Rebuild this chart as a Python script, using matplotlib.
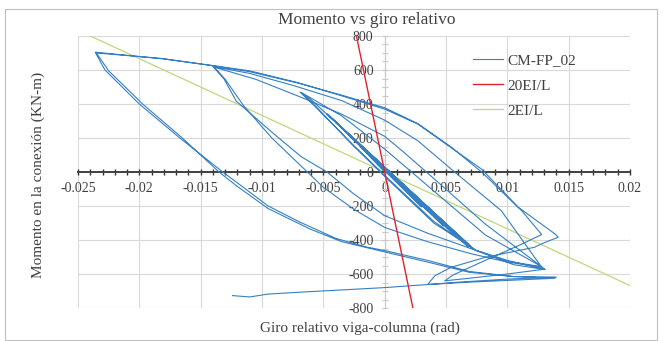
import matplotlib
matplotlib.use("Agg")
import matplotlib.pyplot as plt
from matplotlib.ticker import MultipleLocator, FixedLocator
from matplotlib.patches import Rectangle

plt.rcParams['font.family'] = ['Liberation Serif', 'DejaVu Serif']
plt.rcParams['axes.unicode_minus'] = False

# ---- data ----
theta_cm = [
    # small elastic cycles
    0.0, -0.0020, 0.0030, -0.0032, 0.0048, -0.0040, 0.0060, -0.0046, 0.0068, -0.0047, 0.0072,
    -0.0045, 0.0071, -0.0047, 0.0073,
    # cycle to -0.007
    -0.0048, -0.0060, -0.0069,
    -0.0058, -0.0030, 0.0, 0.0040, 0.0074, 0.0100, 0.0128,
    0.0082, 0.0022, 0.0, -0.0035, -0.0068,
    -0.0056, -0.0025, 0.0005, 0.0040, 0.0075, 0.0105, 0.0131,
    # cycle to -0.014
    0.0082, 0.0034, 0.0015, 0.0, -0.0035, -0.0070, -0.0105, -0.0139,
    -0.0130, -0.0115, -0.0092, -0.0063, -0.0050, -0.0025, 0.0, 0.0035, 0.0070, 0.0100, 0.0128,
    0.0095, 0.0057, 0.0027, 0.0, -0.0035, -0.0075, -0.0110, -0.0140,
    -0.0131, -0.0121, -0.0090, -0.0068, -0.0047, -0.0025, 0.0, 0.0035, 0.0070, 0.0100, 0.0130,
    0.0100, 0.0065, 0.0049, 0.0056, 0.0085, 0.0110, 0.0128,
    # cycle to -0.0236
    0.0112, 0.0079, 0.0054, 0.0027, 0.0, -0.0035, -0.0070, -0.0110, -0.0140, -0.0180, -0.0236,
    -0.0228, -0.0200, -0.0168, -0.0132, -0.0118, -0.0095, -0.0069, -0.0040, -0.0015, 0.0, 0.0035,
    0.0069, 0.0105, 0.0140,
    0.0100, 0.0060, 0.0035, 0.0041, 0.0054, 0.0082, 0.0122, 0.0131, 0.01415,
    0.0139, 0.0109, 0.0079, 0.0054, 0.0027, 0.0, -0.0035, -0.0072, -0.0110, -0.0142, -0.0182, -0.0235,
    -0.0225, -0.0197, -0.0165, -0.0135, -0.0121, -0.0095, -0.0061, -0.0035, 0.0, 0.0035, 0.0069,
    0.0105, 0.0139,
    # last branch
    0.0100, 0.0069, 0.0035, 0.0, -0.0069, -0.0095, -0.0110, -0.0124]
moment_cm = [
    0, 150, -205, 238, -318, 292, -392, 336, -440, 342, -452,
    330, -448, 340, -456,
    346, 425, 470,
    395, 190, -20, -290, -460, -525, -557,
    -370, 0, 135, 330, 468,
    385, 150, -60, -300, -463, -545, -574,
    -306, 0, 120, 210, 340, 445, 545, 617,
    545, 390, 200, 0, -90, -220, -326, -410, -480, -530, -560,
    -227, 0, 184, 305, 420, 510, 580, 620,
    548, 417, 222, 90, 0, -130, -257, -360, -450, -520, -572,
    -600, -628, -640, -605, -510, -430, -368,
    -230, 0, 148, 285, 378, 452, 522, 590, 625, 665, 705,
    600, 400, 206, 0, -75, -200, -295, -390, -441, -462, -520,
    -585, -615, -618,
    -630, -648, -662, -610, -561, -502, -443, -413, -384,
    -365, -208, 17, 144, 282, 370, 448, 528, 595, 628, 668, 700,
    595, 398, 200, 0, -80, -215, -335, -410, -470, -530, -590,
    -615, -625,
    -638, -648, -662, -680, -707, -718, -735, -727]

theta_20 = [-0.0023, 0.0023]
moment_20 = [800, -800]
theta_2 = [-0.0240, 0.0200]
moment_2 = [800, -668]

x_ticks = [-0.025, -0.02, -0.015, -0.01, -0.005, 0, 0.005, 0.01, 0.015, 0.02]
x_labels = ['-0.025', '-0.02', '-0.015', '-0.01', '-0.005', '0', '0.005', '0.01', '0.015', '0.02']
y_ticks = [-800, -600, -400, -200, 0, 200, 400, 600, 800]

# ---- figure ----
fig = plt.figure(figsize=(6.65, 3.41), dpi=100)
fig.patch.set_facecolor('white')
fig.add_artist(Rectangle((5/665, 1/341), 652/665, 331/341, transform=fig.transFigure,
                         fill=False, edgecolor='#bfbfbf', lw=0.8))

ax = fig.add_axes([78/665, 1-308/341, (630-78)/665, (308-36)/341])
ax.set_xlim(-0.025, 0.02)
ax.set_ylim(-800, 800)

ax.plot(theta_cm, moment_cm, color='#3580c4', lw=0.8, label='CM-FP_02', zorder=3)
ax.plot(theta_20, moment_20, color='#e0222c', lw=1.0, label='20EI/L', zorder=4)
ax.plot(theta_2, moment_2, color='#c2d67a', lw=0.9, label='2EI/L', zorder=2)

for s in ['top', 'right']:
    ax.spines[s].set_visible(False)
ax.spines['bottom'].set_position(('data', 0))
ax.spines['left'].set_position(('data', 0))
ax.spines['bottom'].set_color('#404040')
ax.spines['bottom'].set_linewidth(1.4)
ax.spines['left'].set_color('#c8c8c8')
ax.spines['left'].set_linewidth(0.8)

ax.xaxis.set_major_locator(FixedLocator(x_ticks))
ax.set_xticklabels(x_labels)
ax.xaxis.set_minor_locator(MultipleLocator(0.001))
ax.yaxis.set_major_locator(FixedLocator(y_ticks))
ax.yaxis.set_minor_locator(MultipleLocator(50))

ax.tick_params(axis='x', which='both', direction='inout', length=5, width=1.0, color='#303030',
               labelsize=10, labelcolor='#404040', pad=5)
ax.tick_params(axis='y', which='both', direction='inout', length=4, width=0.8, color='#c8c8c8',
               labelsize=10, labelcolor='#404040', pad=6)

ax.grid(True, which='major', color='#d9d9d9', lw=0.8, zorder=0)
ax.set_axisbelow(True)
ax.set_facecolor('white')

leg = ax.legend(loc='upper left', bbox_to_anchor=(462/665, 1-43/341), bbox_transform=fig.transFigure,
                frameon=False, fontsize=11, handlelength=2.0, handletextpad=0.3, labelspacing=0.75,
                borderpad=0.2)
for t in leg.get_texts():
    t.set_color('#404040')

fig.text(367/665, 1-20/341, 'Momento vs giro relativo', ha='center', va='center', fontsize=12.5, color='#404040')
fig.text(360/665, 1-328/341, 'Giro relativo viga-columna (rad)', ha='center', va='center', fontsize=11, color='#404040')
fig.text(38/665, 1-175/341, 'Momento en la conexión (KN-m)', ha='center', va='center', rotation=90,
         fontsize=11, color='#404040')

fig.savefig('out.png', dpi=100, facecolor='white')
